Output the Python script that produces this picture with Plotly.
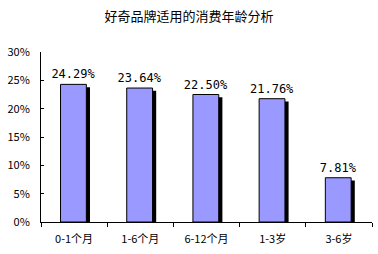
import plotly.graph_objects as go

categories = ["0-1个月", "1-6个月", "6-12个月", "1-3岁", "3-6岁"]
values = [24.29, 23.64, 22.50, 21.76, 7.81]
labels = ["24.29%", "23.64%", "22.50%", "21.76%", "7.81%"]
tick_vals = [0, 5, 10, 15, 20, 25, 30]
tick_text = ["0%", "5%", "10%", "15%", "20%", "25%", "30%"]
title = "好奇品牌适用的消费年龄分析"

FONT = "Noto Sans CJK SC, DejaVu Sans"
idx = list(range(len(categories)))

fig = go.Figure()
# shadow
fig.add_trace(go.Bar(
    x=idx, y=values, base=[-0.5] * len(values),
    width=0.39, offset=-0.195 + 0.045,
    marker=dict(color="black", line=dict(width=0)),
    hoverinfo="skip", showlegend=False,
))
# main bars
fig.add_trace(go.Bar(
    x=idx, y=values, width=0.39, offset=-0.195 - 0.01,
    marker=dict(color="#9999FF", line=dict(color="black", width=1)),
    text=labels, textposition="outside", cliponaxis=False, constraintext="none",
    textfont=dict(family="DejaVu Sans Mono", size=12, color="black"),
    showlegend=False,
))

fig.update_layout(
    barmode="overlay",
    width=378, height=254,
    margin=dict(l=41, r=6, t=52, b=32),
    paper_bgcolor="white", plot_bgcolor="white",
    title=dict(text=title, x=0.5, xanchor="center", y=1 - 16 / 254, yanchor="middle",
               font=dict(family=FONT, size=13, color="black")),
    font=dict(family=FONT, color="black"),
)
fig.update_xaxes(
    range=[-0.5, len(categories) - 0.5],
    tickvals=idx, ticktext=categories,
    showline=True, linecolor="black", linewidth=1,
    ticks="", showgrid=False, zeroline=False,
    ticklabelstandoff=7,
    tickfont=dict(family=FONT, size=11, color="black"),
    fixedrange=True,
)
fig.update_xaxes(minor=dict(tickvals=[i + 0.5 for i in range(-1, len(categories))],
                            ticks="outside", ticklen=4, tickcolor="black", tickwidth=1))
fig.update_yaxes(
    range=[0, 30], tickvals=tick_vals, ticktext=tick_text,
    showline=True, linecolor="black", linewidth=1,
    ticks="inside", ticklen=3, tickcolor="black",
    showgrid=False, zeroline=False,
    ticklabelstandoff=8,
    tickfont=dict(family=FONT, size=11, color="black"),
    fixedrange=True,
)

fig.write_html("out.html")
